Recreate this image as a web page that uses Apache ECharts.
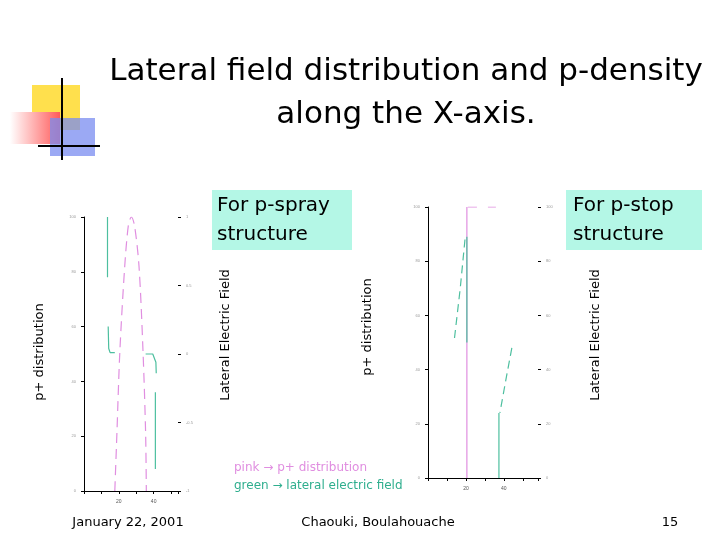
<!DOCTYPE html>
<html>
<head>
<meta charset="utf-8">
<style>
html,body{margin:0;padding:0;background:#fff;}
#main{width:720px;height:540px;}
</style>
<script src="https://cdn.jsdelivr.net/npm/echarts@6/dist/echarts.min.js"></script>
</head>
<body>
<div id="main"></div>
<script>
// p-spray plot: x in microns, pink = p+ density (% of axis), green = lateral field (-1..1)
var sprayDensity = [[17.7,0],[18.9,21],[20.6,51],[23.4,82],[25.5,97],[27.2,100],[29,97],[31.6,82],[33.9,51],[35.4,21],[35.8,0]];
var sprayField = [[13.5,1.0],[13.5,0.56],null,[13.9,0.2],[14.2,0.04],[15,0.01],[17.7,0.01],null,
                  [35.4,0.0],[39.5,0.0],[41.3,-0.06],[41.5,-0.14],null,[41,-0.28],[41,-0.84]];
// p-stop plot
var stopDensity = [[20.5,0],[20.5,100],null,[21,100],[25.8,100],null,[31.6,100],[35.8,100]];
var stopFieldSolid = [[20.5,89],[20.5,50],null,[37.4,24],[37.4,0]];
var stopFieldDash = [[19.5,88],[17,70],[13.7,50],null,[44.2,48],[41,36],[37.9,24]];
var xTicks = ['20','40'];

var pink = '#e08ee0', green = '#4dbf9f';
var chart = echarts.init(document.getElementById('main'));

function xAx(gi, max) {
  return {gridIndex: gi, type: 'value', min: 0, max: max, interval: 10,
    axisLine: {lineStyle: {color: '#000'}}, axisTick: {length: 3, lineStyle: {color: '#000'}},
    splitLine: {show: false},
    axisLabel: {fontSize: 5, color: '#555', formatter: function (v) { return xTicks.indexOf(String(v)) >= 0 ? v : ''; }}};
}
function yAx(gi, min, max, pos, show) {
  return {gridIndex: gi, type: 'value', min: min, max: max, position: pos,
    axisLine: {show: show, lineStyle: {color: '#000'}}, axisTick: {show: true, length: 3, lineStyle: {color: '#000'}},
    splitLine: {show: false}, axisLabel: {fontSize: 4, color: '#999'}};
}
var font = function (s) { return s + 'px Verdana, "DejaVu Sans", sans-serif'; };

chart.setOption({
  animation: false,
  grid: [
    {left: 84, top: 217, width: 94, height: 274},
    {left: 428, top: 207, width: 110, height: 271}
  ],
  xAxis: [xAx(0, 54), xAx(1, 58)],
  yAxis: [yAx(0, 0, 100, 'left', true), yAx(0, -1, 1, 'right', false),
          yAx(1, 0, 100, 'left', true), yAx(1, 0, 100, 'right', false)],
  series: [
    {type: 'line', xAxisIndex: 0, yAxisIndex: 0, data: sprayDensity, smooth: 0.3, symbol: 'none',
     lineStyle: {color: pink, width: 1.2, type: [10, 6]}},
    {type: 'line', xAxisIndex: 0, yAxisIndex: 1, data: sprayField, symbol: 'none', connectNulls: false,
     lineStyle: {color: green, width: 1.2}},
    {type: 'line', xAxisIndex: 1, yAxisIndex: 2, data: stopDensity, symbol: 'none', connectNulls: false,
     lineStyle: {color: pink, width: 1.2}},
    {type: 'line', xAxisIndex: 1, yAxisIndex: 3, data: stopFieldSolid, symbol: 'none', connectNulls: false,
     lineStyle: {color: green, width: 1.2}},
    {type: 'line', xAxisIndex: 1, yAxisIndex: 3, data: stopFieldDash, symbol: 'none', connectNulls: false,
     lineStyle: {color: green, width: 1.2, type: [8, 5]}}
  ],
  graphic: [
    {type: 'rect', shape: {x: 32, y: 85, width: 48, height: 45}, style: {fill: '#ffe04d'}},
    {type: 'rect', shape: {x: 10, y: 112, width: 50, height: 32},
     style: {fill: new echarts.graphic.LinearGradient(0, 0, 1, 0, [{offset: 0, color: '#ffffff'}, {offset: 1, color: '#ff5a5a'}])}},
    {type: 'rect', shape: {x: 50, y: 118, width: 45, height: 38}, style: {fill: '#7a8cf0', opacity: 0.75}},
    {type: 'line', shape: {x1: 62, y1: 78, x2: 62, y2: 160}, style: {stroke: '#000', lineWidth: 2}},
    {type: 'line', shape: {x1: 38, y1: 146, x2: 100, y2: 146}, style: {stroke: '#000', lineWidth: 2}},
    {type: 'text', x: 406, y: 72, style: {text: 'Lateral field distribution and p-density', font: font(31), fill: '#000', align: 'center', verticalAlign: 'middle'}},
    {type: 'text', x: 406, y: 115, style: {text: 'along the X-axis.', font: font(31), fill: '#000', align: 'center', verticalAlign: 'middle'}},
    {type: 'rect', shape: {x: 212, y: 190, width: 140, height: 60}, style: {fill: '#b4f7e6'}},
    {type: 'text', x: 217, y: 191, style: {text: 'For p-spray\nstructure', font: font(20), lineHeight: 29, fill: '#000', verticalAlign: 'top'}},
    {type: 'rect', shape: {x: 566, y: 190, width: 136, height: 60}, style: {fill: '#b4f7e6'}},
    {type: 'text', x: 573, y: 191, style: {text: 'For p-stop\nstructure', font: font(20), lineHeight: 29, fill: '#000', verticalAlign: 'top'}},
    {type: 'text', x: 40, y: 352, rotation: Math.PI / 2, style: {text: 'p+ distribution', font: font(13), fill: '#000', align: 'center', verticalAlign: 'middle'}},
    {type: 'text', x: 226, y: 335, rotation: Math.PI / 2, style: {text: 'Lateral Electric Field', font: font(13), fill: '#000', align: 'center', verticalAlign: 'middle'}},
    {type: 'text', x: 368, y: 327, rotation: Math.PI / 2, style: {text: 'p+ distribution', font: font(13), fill: '#000', align: 'center', verticalAlign: 'middle'}},
    {type: 'text', x: 596, y: 335, rotation: Math.PI / 2, style: {text: 'Lateral Electric Field', font: font(13), fill: '#000', align: 'center', verticalAlign: 'middle'}},
    {type: 'text', x: 234, y: 468, style: {text: 'pink → p+ distribution', font: font(12), fill: pink, verticalAlign: 'middle'}},
    {type: 'text', x: 234, y: 486, style: {text: 'green → lateral electric field', font: font(12), fill: '#2fae8e', verticalAlign: 'middle'}},
    {type: 'text', x: 128, y: 523, style: {text: 'January 22, 2001', font: font(13), fill: '#000', align: 'center', verticalAlign: 'middle'}},
    {type: 'text', x: 378, y: 523, style: {text: 'Chaouki, Boulahouache', font: font(13), fill: '#000', align: 'center', verticalAlign: 'middle'}},
    {type: 'text', x: 670, y: 523, style: {text: '15', font: font(13), fill: '#000', align: 'center', verticalAlign: 'middle'}}
  ]
});
</script>
</body>
</html>
